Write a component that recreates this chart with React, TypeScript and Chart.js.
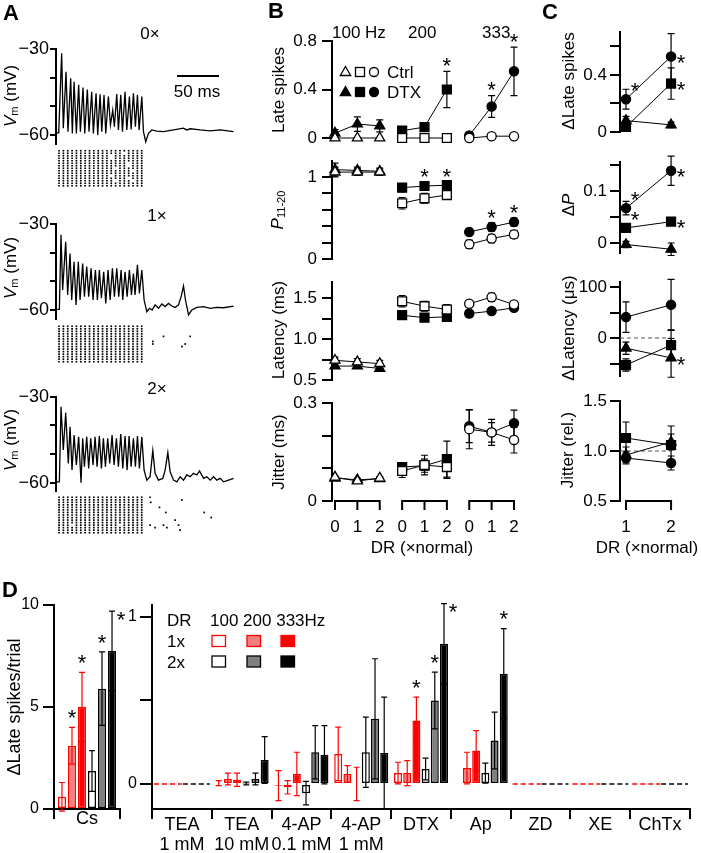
import React, { useEffect, useRef } from 'react';
import { Chart, registerables } from 'chart.js';

Chart.register(...registerables);

const W = 701;
const H = 853;
const FONT = '"Liberation Sans", Arial, Helvetica, sans-serif';
const RED = '#ff0000';
const PINK = '#f28080';
const GREY = '#808080';

/* ================= Panel A : Vm traces ([time ms, Vm mV]) ================= */
const traceNames = ['0×', '1×', '2×'];
const trace0x = [[0,-59.2],[3.3,-59.2],[6.9,-31.5],[8.9,-57.6],[12.2,-37.9],[14.6,-58.8],[17.9,-40.2],[19.9,-59.4],[22.0,-41.4],[24.8,-59.4],[27.6,-42.5],[29.7,-58.8],[32.9,-43.4],[35.0,-59.4],[38.2,-44.1],[40.2,-58.8],[43.5,-44.9],[45.5,-59.4],[48.8,-45.4],[50.8,-60.0],[53.7,-45.8],[55.7,-58.8],[58.5,-46.0],[60.6,-59.4],[63.8,-46.6],[66.3,-56.5],[69.1,-51.3],[71.1,-57.1],[74.0,-45.7],[76.0,-58.2],[78.9,-46.0],[80.9,-58.8],[84.1,-44.9],[86.2,-58.2],[89.4,-46.6],[91.5,-58.0],[94.3,-45.4],[96.7,-57.1],[99.2,-46.0],[101.2,-58.2],[104.5,-46.6],[106.5,-58.8],[109.3,-62.3],[112.6,-59.4],[116.7,-58.2],[122.8,-58.6],[130.9,-58.8],[143.1,-58.2],[155.3,-57.6],[159.3,-58.2],[163.4,-57.8],[175.6,-58.2],[187.8,-58.5],[200.0,-58.2],[216.3,-58.8]];
const trace1x = [[0,-59.8],[4.1,-59.8],[6.1,-33.7],[8.1,-53.0],[11.8,-36.1],[14.2,-54.7],[17.1,-40.2],[19.1,-56.5],[22.0,-43.1],[24.4,-58.2],[27.2,-43.1],[29.3,-56.5],[32.5,-43.7],[34.6,-55.3],[37.4,-44.8],[39.8,-55.3],[42.7,-45.4],[45.1,-56.5],[48.0,-46.0],[50.4,-56.5],[52.8,-46.0],[55.3,-55.9],[58.1,-46.6],[60.6,-57.7],[63.4,-46.0],[65.9,-56.5],[68.7,-45.4],[71.1,-55.3],[74.0,-45.4],[76.4,-55.3],[79.3,-46.0],[81.3,-56.5],[84.1,-46.6],[86.6,-55.3],[89.4,-46.0],[91.9,-54.7],[94.3,-47.2],[96.3,-54.7],[99.2,-44.2],[101.6,-54.2],[104.5,-46.0],[107.3,-56.5],[110.6,-60.6],[113.8,-59.4],[117.1,-60.0],[120.7,-58.2],[124.8,-59.4],[128.9,-57.9],[132.9,-58.8],[137.0,-57.7],[141.1,-58.6],[145.1,-59.1],[149.2,-58.2],[152.4,-55.3],[155.3,-51.6],[157.7,-56.5],[161.4,-61.7],[165.4,-60.0],[171.5,-59.1],[179.7,-58.8],[187.8,-59.4],[195.9,-59.1],[204.1,-59.2],[216.3,-58.6]];
const trace2x = [[0,-59.7],[4.1,-59.7],[6.1,-33.5],[8.9,-48.6],[11.8,-35.6],[15.0,-53.3],[17.1,-40.5],[19.5,-55.6],[22.0,-43.4],[24.8,-53.8],[27.6,-44.0],[30.5,-60.0],[32.5,-44.5],[34.6,-54.4],[37.4,-44.0],[39.8,-55.0],[42.3,-44.5],[45.1,-53.8],[47.6,-44.0],[50.0,-54.4],[52.8,-43.7],[55.3,-55.0],[57.7,-44.5],[60.2,-54.4],[63.0,-44.5],[65.4,-53.3],[68.3,-43.4],[70.7,-53.8],[73.6,-44.5],[76.0,-54.4],[78.9,-43.0],[81.3,-55.0],[84.1,-43.7],[86.6,-55.6],[89.0,-43.7],[91.5,-54.4],[94.3,-44.5],[96.7,-54.4],[99.2,-43.7],[101.6,-55.0],[104.5,-44.0],[107.3,-55.6],[110.6,-59.1],[114.6,-57.9],[117.9,-48.8],[120.7,-56.7],[124.8,-59.1],[130.1,-58.5],[132.9,-55.6],[136.2,-49.5],[139.0,-56.2],[143.1,-59.1],[147.2,-59.7],[151.2,-57.9],[155.3,-59.1],[159.3,-57.3],[163.4,-57.9],[167.5,-56.7],[171.5,-57.3],[174.8,-55.9],[179.7,-58.5],[183.7,-57.9],[187.8,-59.1],[191.9,-57.9],[195.9,-59.1],[200.0,-58.5],[204.1,-59.7],[210.2,-59.1],[216.3,-58.5]];
const vmTicks = [-60, -50, -40, -30];
const vmTickLabels = ['\u221260', '', '', '\u221230'];
// raster: stimulus-locked spike times (ms) x trials, missing spikes, late spikes [ms, trial]
const rasterTimes = [3.7, 9.0, 14.3, 19.6, 24.9, 30.2, 35.5, 40.8, 46.1, 51.4, 56.7, 62.0, 67.3, 72.6, 77.9, 83.2, 88.5, 93.8, 99.1, 104.4];
const rasterTrials = [1, 2, 3, 4, 5, 6, 7, 8, 9, 10, 11, 12, 13, 14, 15];
const missing0x = [[12,3],[12,4],[13,8],[12,11],[16,6],[16,7],[17,9],[16,12],[13,13],[17,13],[15,2]];
const missing1x: number[][] = [];
const missing2x = [[14,12],[3,12]];
const late0x: number[][] = [];
const late1x = [[117.9,7],[117.9,8],[130.9,5],[153.3,9],[157.3,8],[163.4,5]];
const late2x = [[114.6,1],[115.4,3],[126.0,5],[133.7,7],[153.3,2],[145.1,10],[180.5,7],[189.0,9],[114.6,12],[120.7,13],[130.9,12],[135.0,13],[149.2,12],[151.2,14]];

/* ================= Panel B ================= */
const freqGroups = ['100 Hz', '200', '333'];
const drLevels = [0, 1, 2];
const lateCtrl = [[0, 0, 0], [0, 0, 0], [0, 0.015, 0.015]];
const lateCtrlErr = [[0, 0, 0], [0, 0, 0], [0, 0, 0]];
const lateDtx = [[0.04, 0.115, 0.10], [0.06, 0.09, 0.40], [0.02, 0.26, 0.55]];
const lateDtxErr = [[0.03, 0.06, 0.05], [0.03, 0.02, 0.15], [0.01, 0.09, 0.2]];
const lateSig = [[0, 0, 0], [0, 0, 1], [0, 1, 1]];
const pCtrl = [[1.06, 1.06, 1.06], [0.68, 0.74, 0.78], [0.18, 0.25, 0.30]];
const pCtrlErr = [[0.06, 0.04, 0.04], [0.07, 0.06, 0.05], [0.05, 0.05, 0.05]];
const pDtx = [[1.09, 1.08, 1.07], [0.87, 0.89, 0.90], [0.33, 0.39, 0.45]];
const pDtxErr = [[0.08, 0.04, 0.04], [0.05, 0.05, 0.04], [0.04, 0.05, 0.05]];
const pSig = [[0, 0, 0], [0, 1, 1], [0, 1, 1]];
const latCtrl = [[0.74, 0.72, 0.70], [1.46, 1.40, 1.36], [1.43, 1.51, 1.42]];
const latCtrlErr = [[0.04, 0.04, 0.04], [0.07, 0.06, 0.06], [0.04, 0.05, 0.03]];
const latDtx = [[0.67, 0.67, 0.64], [1.29, 1.26, 1.27], [1.31, 1.34, 1.38]];
const latDtxErr = [[0.03, 0.03, 0.03], [0.04, 0.04, 0.05], [0.04, 0.04, 0.03]];
const jitCtrl = [[0.073, 0.061, 0.070], [0.092, 0.11, 0.104], [0.22, 0.21, 0.187]];
const jitCtrlErr = [[0.004, 0.004, 0.005], [0.02, 0.03, 0.035], [0.06, 0.04, 0.04]];
const jitDtx = [[0.07, 0.065, 0.068], [0.104, 0.108, 0.128], [0.229, 0.21, 0.238]];
const jitDtxErr = [[0.004, 0.004, 0.005], [0.01, 0.02, 0.055], [0.05, 0.03, 0.04]];
const noSig = [[0, 0, 0], [0, 0, 0], [0, 0, 0]];

/* ================= Panel C (DTX - Ctrl), order: 100 Hz, 200, 333 ================= */
const cDr = [1, 2];
const cLate = [[0.08, 0.05], [0.035, 0.34], [0.23, 0.53]];
const cLateErr = [[0.03, 0.02], [0.02, 0.11], [0.07, 0.16]];
const cLateSig = [[0, 0], [0, 2], [3, 2]];
const cP = [[-0.003, -0.012], [0.029, 0.041], [0.067, 0.139]];
const cPErr = [[0.006, 0.012], [0.005, 0.006], [0.013, 0.028]];
const cPSig = [[0, 0], [3, 2], [3, 2]];
const cLat = [[-20, -39], [-53, -14], [41, 65]];
const cLatErr = [[12, 38], [12, 30], [30, 50]];
const cLatSig = [[0, 2], [0, 0], [0, 0]];
const cJit = [[0.96, 1.09], [1.13, 1.06], [0.93, 0.88]];
const cJitErr = [[0.08, 0.08], [0.16, 0.19], [0.06, 0.07]];
const cJitSig = [[0, 0], [0, 0], [0, 0]];

/* ================= Panel D ================= */
const dSeries = ['1x 100', '1x 200', '1x 333', '2x 100', '2x 200', '2x 333'];
const csVals = [0.6, 3.1, 5.0, 1.86, 5.9, 7.75];
const csErr = [0.7, 0.9, 1.7, 1.0, 1.8, 1.95];
const csSig = [0, 1, 1, 0, 1, 4];
const dCats = [['TEA', '1 mM'], ['TEA', '10 mM'], ['4-AP', '0.1 mM'], ['4-AP', '1 mM'], 'DTX', 'Ap', 'ZD', 'XE', 'ChTx'];
const dVals = [
  [null, 0.005, -0.01, 0.18, 0.065, 0.004, null, null, null],
  [null, 0.03, -0.02, 0.06, 0.065, 0.095, null, null, null],
  [null, 0.025, 0.06, 0.0, 0.38, 0.20, null, null, null],
  [null, 0.003, -0.055, 0.19, 0.09, 0.065, null, null, null],
  [null, 0.03, 0.19, 0.39, 0.50, 0.26, null, null, null],
  [null, 0.144, 0.175, 0.185, 0.84, 0.66, null, null, null],
];
const dErr = [
  [0, 0.015, 0.09, 0.16, 0.065, 0, 0, 0, 0],
  [0, 0.035, 0.04, 0.05, 0.075, 0.095, 0, 0, 0],
  [0, 0.04, 0.13, 0.1, 0.14, 0.12, 0, 0, 0],
  [0, 0.008, 0.07, 0.21, 0.065, 0.06, 0, 0, 0],
  [0, 0.035, 0.16, 0.36, 0.17, 0.17, 0, 0, 0],
  [0, 0.14, 0.175, 0.335, 0.24, 0.27, 0, 0, 0],
];
const dSig = [
  [0, 0, 0, 0, 0, 0, 0, 0, 0],
  [0, 0, 0, 0, 0, 0, 0, 0, 0],
  [0, 0, 0, 0, 1, 0, 0, 0, 0],
  [0, 0, 0, 0, 0, 0, 0, 0, 0],
  [0, 0, 0, 0, 1, 0, 0, 0, 0],
  [0, 0, 0, 0, 4, 1, 0, 0, 0],
];

/* ================= styles ================= */
const barFill = ['#ffffff', PINK, RED, '#ffffff', GREY, '#000000'];
const barEdge = [RED, RED, RED, '#000000', '#000000', '#000000'];
const SHAPE = ['triangle', 'rect', 'circle'];
const PR: Record<string, number> = { triangle: 5.8, rect: 6.3, circle: 4.6 };

type Area = { l: number; t: number; r: number; b: number };

/* ================= plugin ================= */
function star(ctx: any, x: number, y: number, size: number) {
  ctx.save();
  ctx.font = `${size}px ${FONT}`;
  ctx.fillStyle = '#000';
  ctx.textAlign = 'center';
  ctx.textBaseline = 'alphabetic';
  ctx.fillText('*', x, y + size * 0.58);
  ctx.restore();
}

function valOf(raw: any) {
  if (raw == null) return null;
  return typeof raw === 'object' ? raw.y : raw;
}

function makeAnnot(o: any) {
  const drawErrs = (chart: any) => {
    const ctx = chart.ctx;
    const cap = o.cap ?? 3.5;
    chart.data.datasets.forEach((ds: any, i: number) => {
      if (!ds.errs) return;
      const meta = chart.getDatasetMeta(i);
      const ys = chart.scales[meta.yAxisID];
      ds.data.forEach((raw: any, j: number) => {
        const v = valOf(raw);
        const e = ds.errs[j];
        if (v == null || !e) return;
        const el = meta.data[j];
        if (!el) return;
        const x = el.x;
        const y1 = ys.getPixelForValue(v + e);
        const y2 = ys.getPixelForValue(v - e);
        ctx.save();
        ctx.strokeStyle = ds.errColor || '#000';
        ctx.lineWidth = o.errWidth ?? 1.2;
        ctx.beginPath();
        ctx.moveTo(x, y1); ctx.lineTo(x, y2);
        ctx.moveTo(x - cap, y1); ctx.lineTo(x + cap, y1);
        ctx.moveTo(x - cap, y2); ctx.lineTo(x + cap, y2);
        ctx.stroke();
        ctx.restore();
      });
    });
  };
  const drawStars = (chart: any) => {
    const size = o.starSize ?? 22;
    const gap = o.starGap ?? 12;
    chart.data.datasets.forEach((ds: any, i: number) => {
      if (!ds.sig) return;
      const meta = chart.getDatasetMeta(i);
      const ys = chart.scales[meta.yAxisID];
      ds.sig.forEach((s: number, j: number) => {
        if (!s) return;
        const v = valOf(ds.data[j]);
        if (v == null) return;
        const e = ds.errs ? ds.errs[j] || 0 : 0;
        const el = meta.data[j];
        const top = ys.getPixelForValue(v + e);
        if (s === 1) star(chart.ctx, el.x, top - gap, size);
        else if (s === 2) star(chart.ctx, el.x + 10, el.y + 1, size);
        else if (s === 3) star(chart.ctx, el.x + 9, el.y - 14, size);
        else if (s === 4) star(chart.ctx, el.x + 9, top + 3, size);
      });
    });
  };
  return {
    id: 'annot',
    beforeDatasetsDraw(chart: any) {
      const { ctx, chartArea } = chart;
      if (o.refLine) {
        const xs = chart.scales.x;
        const ys = chart.scales.y;
        const y = ys.getPixelForValue(o.refLine.value);
        ctx.save();
        ctx.setLineDash([4, 3]);
        ctx.strokeStyle = '#555';
        ctx.lineWidth = 1;
        ctx.beginPath();
        ctx.moveTo(chartArea.left, y);
        ctx.lineTo(xs.getPixelForValue(o.refLine.to), y);
        ctx.stroke();
        ctx.restore();
      }
      if (o.errBehind) drawErrs(chart);
    },
    afterDatasetsDraw(chart: any) {
      const { ctx, chartArea } = chart;
      if (!o.errBehind) drawErrs(chart);
      drawStars(chart);
      if (o.brackets) {
        const xs = chart.scales.x;
        const y0 = chartArea.bottom;
        const len = o.bracketLen ?? 9;
        ctx.save();
        ctx.strokeStyle = '#000';
        ctx.lineWidth = 2;
        ctx.beginPath();
        o.brackets.forEach((b: any) => {
          ctx.moveTo(xs.getPixelForValue(b.from) - 1, y0);
          ctx.lineTo(xs.getPixelForValue(b.to) + 1, y0);
          b.at.forEach((t: number) => {
            const x = xs.getPixelForValue(t);
            ctx.moveTo(x, y0 - 1);
            ctx.lineTo(x, y0 + len);
          });
        });
        ctx.stroke();
        ctx.restore();
      }
      if (o.dashNull) {
        const xs = chart.scales.x;
        const ys = chart.scales.y;
        const n = chart.data.labels.length;
        const cw = (xs.right - xs.left) / n;
        const y0 = ys.getPixelForValue(0);
        const d1 = chart.data.datasets[0];
        const d2 = chart.data.datasets[3];
        ctx.save();
        ctx.lineWidth = 1.5;
        ctx.setLineDash([5, 3]);
        for (let k = 0; k < n; k++) {
          const c = xs.getPixelForValue(k);
          if (d1.data[k] == null) {
            ctx.strokeStyle = d1.errColor;
            ctx.beginPath(); ctx.moveTo(c - cw / 2 + 2, y0); ctx.lineTo(c, y0); ctx.stroke();
          }
          if (d2.data[k] == null) {
            ctx.strokeStyle = d2.errColor;
            ctx.beginPath(); ctx.moveTo(c + 1, y0); ctx.lineTo(c + cw / 2 - 2, y0); ctx.stroke();
          }
        }
        ctx.restore();
      }
    },
  };
}

/* ================= scale helpers ================= */
function zeroPad(s: any) {
  s.paddingTop = 0; s.paddingBottom = 0; s.paddingLeft = 0; s.paddingRight = 0;
}

function yAxis(min: number, max: number, ticks: number[], labels: string[], yw: number, tl: number, pad: number, size = 17) {
  return {
    type: 'linear', position: 'left', min, max,
    afterFit: (s: any) => { s.width = yw; zeroPad(s); },
    afterBuildTicks: (s: any) => { s.ticks = ticks.map((v) => ({ value: v })); },
    ticks: { autoSkip: false, padding: pad, color: '#000', font: { family: FONT, size }, callback: (_v: any, i: number) => labels[i] },
    grid: { display: true, drawOnChartArea: false, drawTicks: true, tickLength: tl, tickWidth: 2, tickColor: '#000', lineWidth: 2, color: '#000' },
    border: { display: true, color: '#000', width: 2 },
  };
}

function xLabelAxis(min: number, max: number, vals: number[], labels: string[], xh: number, pad: number) {
  return {
    type: 'linear', position: 'bottom', min, max,
    afterFit: (s: any) => { s.height = xh; zeroPad(s); },
    afterBuildTicks: (s: any) => { s.ticks = vals.map((v) => ({ value: v })); },
    ticks: { autoSkip: false, maxRotation: 0, minRotation: 0, padding: pad, color: '#000', font: { family: FONT, size: 17 }, callback: (_v: any, i: number) => labels[i] },
    grid: { display: false, drawTicks: false },
    border: { display: false },
  };
}

function catAxis(xh: number, pad: number) {
  return {
    type: 'category', position: 'bottom', offset: true,
    afterFit: (s: any) => { s.height = xh; zeroPad(s); },
    ticks: { autoSkip: false, maxRotation: 0, minRotation: 0, padding: pad, color: '#000', font: { family: FONT, size: 18, lineHeight: 1.1 } },
    grid: { display: true, offset: true, drawOnChartArea: false, drawTicks: true, tickLength: 10, tickWidth: 2, tickColor: '#000', lineWidth: 2, color: '#000' },
    border: { display: true, color: '#000', width: 2 },
  };
}

function opts(a: Area, yw: number, xh: number, scales: any) {
  return {
    responsive: false,
    animation: false,
    events: [],
    layout: { autoPadding: false, padding: { left: a.l - yw, top: a.t, right: W - a.r, bottom: H - a.b - xh } },
    plugins: { legend: { display: false }, tooltip: { enabled: false } },
    scales,
  };
}

/* ================= chart builders ================= */
function traceCfg(trace: number[][], a: Area) {
  return {
    type: 'scatter',
    data: { datasets: [{ data: trace.map(([t, v]) => ({ x: t, y: v })), showLine: true, borderColor: '#000', borderWidth: 1.3, pointRadius: 0, tension: 0, clip: false }] },
    options: opts(a, 56, 0, {
      x: { type: 'linear', display: false, min: 0, max: 218 },
      y: yAxis(-63, -30, vmTicks, vmTickLabels, 56, 6, 1, 18),
    }),
    plugins: [makeAnnot({})],
  };
}

function rasterCfg(missing: number[][], late: number[][], a: Area) {
  const pts: any[] = [];
  rasterTimes.forEach((t, i) => {
    rasterTrials.forEach((r) => {
      if (!missing.some(([mi, mr]) => mi === i && mr === r)) pts.push({ x: t, y: r });
    });
  });
  late.forEach(([t, r]) => pts.push({ x: t, y: r }));
  return {
    type: 'scatter',
    data: { datasets: [{ data: pts, pointStyle: 'rect', pointRadius: 1.2, pointBackgroundColor: '#000', pointBorderWidth: 0, clip: false }] },
    options: opts(a, 0, 0, {
      x: { type: 'linear', display: false, min: 0, max: 218 },
      y: { type: 'linear', display: false, min: 0.5, max: 15.5, reverse: true },
    }),
  };
}

function lineDs(vals: number[], errs: number[], xs: number[], shape: string, filled: boolean, sig?: number[]) {
  return {
    data: vals.map((v, i) => ({ x: xs[i], y: v })),
    showLine: true, borderColor: '#000', borderWidth: 1,
    pointStyle: shape, pointRadius: PR[shape],
    pointBackgroundColor: filled ? '#000' : '#fff', pointBorderColor: '#000', pointBorderWidth: 1.3,
    clip: false, errs, sig,
  };
}

const B_XMIN = -0.134;
const B_XMAX = 8.715;

function bCfg(ctrl: number[][], ctrlErr: number[][], dtx: number[][], dtxErr: number[][], sig: number[][], a: Area,
  yMin: number, yMax: number, ticks: number[], labels: string[], withX: boolean) {
  const pos = (g: number) => drLevels.map((d) => g * 3 + d);
  const datasets: any[] = [];
  freqGroups.forEach((_, g) => datasets.push(lineDs(ctrl[g], ctrlErr[g], pos(g), SHAPE[g], false)));
  freqGroups.forEach((_, g) => datasets.push(lineDs(dtx[g], dtxErr[g], pos(g), SHAPE[g], true, sig[g])));
  const xh = withX ? 50 : 0;
  const xVals = freqGroups.flatMap((_, g) => pos(g));
  const x = withX
    ? xLabelAxis(B_XMIN, B_XMAX, xVals, xVals.map((v) => String(drLevels[v % 3])), xh, 16)
    : { type: 'linear', display: false, min: B_XMIN, max: B_XMAX };
  return {
    type: 'scatter',
    data: { datasets },
    options: opts(a, 50, xh, { x, y: yAxis(yMin, yMax, ticks, labels, 50, 10, 5) }),
    plugins: [makeAnnot({
      errBehind: true, cap: 3.5, starGap: 11,
      brackets: withX ? freqGroups.map((_, g) => ({ from: g * 3, to: g * 3 + 2, at: pos(g) })) : null,
    })],
  };
}

function cCfg(vals: number[][], errs: number[][], sig: number[][], a: Area, yMin: number, yMax: number,
  ticks: number[], labels: string[], withX: boolean, refLine: any) {
  const datasets = SHAPE.map((s, g) => lineDs(vals[g], errs[g], cDr, s, true, sig[g]));
  const xh = withX ? 50 : 0;
  const x = withX
    ? xLabelAxis(0.867, 2.42, cDr, cDr.map(String), xh, 16)
    : { type: 'linear', display: false, min: 0.867, max: 2.42 };
  return {
    type: 'scatter',
    data: { datasets },
    options: opts(a, 50, xh, { x, y: yAxis(yMin, yMax, ticks, labels, 50, 10, 3) }),
    plugins: [makeAnnot({
      errBehind: true, cap: 3.5, refLine,
      brackets: withX ? [{ from: cDr[0], to: cDr[1], at: cDr }] : null,
    })],
  };
}

function barDs(s: number, vals: any[], errs: number[], sig: number[], bp: number, cp: number) {
  return {
    label: dSeries[s], data: vals, backgroundColor: barFill[s], borderColor: barEdge[s], borderWidth: 1.5,
    borderSkipped: false, barPercentage: bp, categoryPercentage: cp, errs, errColor: barEdge[s], sig,
  };
}

function csCfg() {
  const a = { l: 54, r: 120, t: 605, b: 809 };
  return {
    type: 'bar',
    data: { labels: ['Cs'], datasets: dSeries.map((_, s) => barDs(s, [csVals[s]], [csErr[s]], [csSig[s]], 0.8, 0.91)) },
    options: opts(a, 40, 44, { x: catAxis(44, -10), y: yAxis(0, 10, [0, 5, 10], ['0', '5', '10'], 40, 11, 4, 16) }),
    plugins: [makeAnnot({ cap: 3, starGap: 15 })],
  };
}

function dCfg() {
  const a = { l: 152, r: 690, t: 605, b: 809 };
  return {
    type: 'bar',
    data: { labels: dCats, datasets: dSeries.map((_, s) => barDs(s, dVals[s], dErr[s], dSig[s], 0.87, 0.923)) },
    options: opts(a, 30, 44, { x: catAxis(44, -4), y: yAxis(-0.15, 1.072, [0, 0.5, 1], ['0', '', '1'], 30, 12, 3, 16) }),
    plugins: [makeAnnot({ cap: 3, starGap: 15, dashNull: true })],
  };
}

const BUILDERS: (() => any)[] = [
  () => traceCfg(trace0x, { l: 56, r: 235, t: 49, b: 143.7 }),
  () => rasterCfg(missing0x, late0x, { l: 56, r: 235, t: 149.5, b: 187 }),
  () => traceCfg(trace1x, { l: 56, r: 235, t: 224.3, b: 318.6 }),
  () => rasterCfg(missing1x, late1x, { l: 56, r: 235, t: 325, b: 363 }),
  () => traceCfg(trace2x, { l: 56, r: 235, t: 396.7, b: 491.3 }),
  () => rasterCfg(missing2x, late2x, { l: 56, r: 235, t: 496, b: 534 }),
  () => bCfg(lateCtrl, lateCtrlErr, lateDtx, lateDtxErr, lateSig, { l: 332, r: 530, t: 41, b: 138 }, 0, 0.8, [0, 0.4, 0.8], ['0', '0.4', '0.8'], false),
  () => bCfg(pCtrl, pCtrlErr, pDtx, pDtxErr, pSig, { l: 332, r: 530, t: 160.6, b: 259 }, 0, 1.2, [0, 0.2, 0.4, 0.6, 0.8, 1.0], ['0', '', '', '', '', '1'], false),
  () => bCfg(latCtrl, latCtrlErr, latDtx, latDtxErr, noSig, { l: 332, r: 530, t: 281.6, b: 380 }, 0.5, 1.7, [0.5, 0.75, 1.0, 1.25, 1.5], ['0.5', '', '1.0', '', '1.5'], false),
  () => bCfg(jitCtrl, jitCtrlErr, jitDtx, jitDtxErr, noSig, { l: 332, r: 530, t: 403, b: 501 }, 0, 0.3, [0, 0.1, 0.2, 0.3], ['0', '', '', '0.3'], true),
  () => cCfg(cLate, cLateErr, cLateSig, { l: 620, r: 690, t: 32.25, b: 132 }, 0, 0.7, [0, 0.2, 0.4, 0.6], ['0', '', '0.4', ''], false, null),
  () => cCfg(cP, cPErr, cPSig, { l: 620, r: 690, t: 162.4, b: 253.4 }, -0.02, 0.155, [0, 0.05, 0.1, 0.15], ['0', '', '0.1', ''], false, null),
  () => cCfg(cLat, cLatErr, cLatSig, { l: 620, r: 690, t: 281.9, b: 376.25 }, -75, 110, [-50, 0, 50, 100], ['', '0', '', '100'], false, { value: 0, to: 2 }),
  () => cCfg(cJit, cJitErr, cJitSig, { l: 620, r: 690, t: 401, b: 501 }, 0.5, 1.5, [0.5, 1.0, 1.5], ['0.5', '1.0', '1.5'], true, { value: 1, to: 2 }),
  () => csCfg(),
  () => dCfg(),
];

/* ================= text helpers ================= */
function T({ x, y, s = 17, a = 'c', rot = false, bold = false, children }: any) {
  const tx = a === 'c' ? '-50%' : a === 'r' ? '-100%' : '0';
  return (
    <div
      style={{
        position: 'absolute', left: x, top: y, whiteSpace: 'pre', lineHeight: 1, fontSize: s,
        fontWeight: bold ? 'bold' : 'normal', color: '#000', fontFamily: FONT,
        transform: `translate(${tx}, -50%)${rot ? ' rotate(-90deg)' : ''}`,
      }}
    >
      {children}
    </div>
  );
}

const sub = { fontSize: '0.65em', verticalAlign: '-0.25em' } as const;

export default function App() {
  const refs = useRef<(HTMLCanvasElement | null)[]>([]);
  useEffect(() => {
    Chart.defaults.font.family = FONT;
    Chart.defaults.color = '#000';
    const charts = BUILDERS.map((b, i) => {
      const c = refs.current[i];
      return c ? new Chart(c, b()) : null;
    });
    return () => charts.forEach((c) => c && c.destroy());
  }, []);

  const vmY = [96, 268, 440];
  const traceLabelPos = [[150, 33], [157, 215], [157, 388]];

  return (
    <div style={{ position: 'absolute', left: 0, top: 0, width: W, height: H, background: '#fff', overflow: 'hidden', fontFamily: FONT }}>
      {BUILDERS.map((_, i) => (
        <canvas key={i} ref={(el) => { refs.current[i] = el; }} width={W} height={H} style={{ position: 'absolute', left: 0, top: 0 }} />
      ))}
      <svg width={W} height={H} style={{ position: 'absolute', left: 0, top: 0 }}>
        <line x1={177} y1={76} x2={219} y2={76} stroke="#000" strokeWidth={2} />
        <polygon points="345.5,66.5 350.7,75.5 340.3,75.5" fill="#fff" stroke="#000" strokeWidth={1.3} />
        <rect x={355.5} y={67.5} width={9} height={9} fill="#fff" stroke="#000" strokeWidth={1.3} />
        <circle cx={374} cy={72} r={4.5} fill="#fff" stroke="#000" strokeWidth={1.3} />
        <polygon points="345.5,86.5 350.7,95.5 340.3,95.5" fill="#000" stroke="#000" strokeWidth={1.3} />
        <rect x={355.5} y={87.5} width={9} height={9} fill="#000" stroke="#000" strokeWidth={1.3} />
        <circle cx={374} cy={92} r={4.5} fill="#000" stroke="#000" strokeWidth={1.3} />
        {[212, 247, 281].map((x, k) => (
          <rect key={'l1' + k} x={x} y={635.5} width={13.5} height={11} fill={barFill[k]} stroke={barEdge[k]} strokeWidth={1.3} />
        ))}
        {[212, 247, 281].map((x, k) => (
          <rect key={'l2' + k} x={x} y={656} width={13.5} height={11} fill={barFill[k + 3]} stroke={barEdge[k + 3]} strokeWidth={1.3} />
        ))}
      </svg>

      {/* Panel letters */}
      <T x={3} y={13} s={22} a="l" bold>A</T>
      <T x={268} y={11} s={22} a="l" bold>B</T>
      <T x={542} y={12} s={22} a="l" bold>C</T>
      <T x={2} y={590} s={22} a="l" bold>D</T>

      {/* Panel A */}
      {traceLabelPos.map(([x, y], k) => <T key={'tl' + k} x={x} y={y}>{traceNames[k]}</T>)}
      <T x={197} y={91}>50 ms</T>
      {vmY.map((y, k) => (
        <T key={'vm' + k} x={11} y={y} rot><i>V</i><span style={sub}>m</span> (mV)</T>
      ))}

      {/* Panel B */}
      <T x={332} y={32} a="l">{freqGroups[0]}</T>
      <T x={408} y={32} a="l">{freqGroups[1]}</T>
      <T x={482} y={32} a="l">{freqGroups[2]}</T>
      <T x={387} y={72} a="l">Ctrl</T>
      <T x={387} y={92} a="l">DTX</T>
      <T x={278} y={90} rot>Late spikes</T>
      <T x={278} y={210} rot><i>P</i><span style={sub}>11-20</span></T>
      <T x={278} y={330} rot>Latency (ms)</T>
      <T x={278} y={452} rot>Jitter (ms)</T>
      <T x={422} y={547}>DR (×normal)</T>

      {/* Panel C */}
      <T x={568} y={81} rot>ΔLate spikes</T>
      <T x={568} y={205} rot>Δ<i>P</i></T>
      <T x={568} y={328} rot>ΔLatency (μs)</T>
      <T x={567} y={450} rot>Jitter (rel.)</T>
      <T x={647} y={547}>DR (×normal)</T>

      {/* Panel D */}
      <T x={14} y={707} s={18} rot>ΔLate spikes/trial</T>
      <T x={167} y={620} a="l">DR</T>
      <T x={210} y={620} a="l">100 200 333Hz</T>
      <T x={167} y={641} a="l">1x</T>
      <T x={167} y={662} a="l">2x</T>
    </div>
  );
}
